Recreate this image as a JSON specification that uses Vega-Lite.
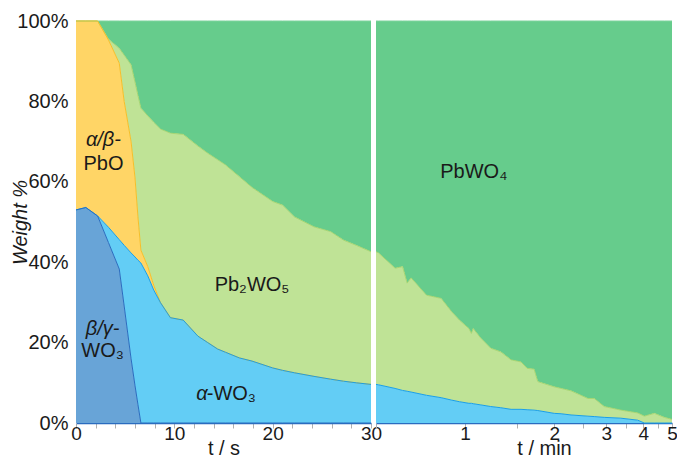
{
  "$schema": "https://vega.github.io/schema/vega-lite/v6.json",
  "background": "white",
  "padding": {"left": 10, "top": 11, "right": 2, "bottom": 0},
  "bounds": "flush",
  "spacing": 5,
  "config": {
    "view": {"stroke": null},
    "font": "Liberation Sans",
    "axis": {"grid": false, "labelOverlap": false, "labelColor": "#1a1a1a", "titleColor": "#1a1a1a", "labelFont": "Liberation Sans", "titleFont": "Liberation Sans", "titleFontWeight": "normal"}
  },
  "datasets": {
    "phases": [
      {"key": "bgWO3", "i": 1},
      {"key": "aWO3", "i": 2},
      {"key": "PbO", "i": 3},
      {"key": "Pb2WO5", "i": 4},
      {"key": "PbWO4", "i": 5}
    ],
    "left": [
      {"t": 0, "bgWO3": 53.0, "aWO3": 0, "PbO": 47.0, "Pb2WO5": 0, "PbWO4": 0},
      {"t": 1, "bgWO3": 53.6, "aWO3": 0, "PbO": 46.4, "Pb2WO5": 0, "PbWO4": 0},
      {"t": 2.2, "bgWO3": 51.5, "aWO3": 0, "PbO": 48.5, "Pb2WO5": 0, "PbWO4": 0},
      {"t": 3.3, "bgWO3": 44.9, "aWO3": 3.8, "PbO": 46.6, "Pb2WO5": 0.2, "PbWO4": 4.5},
      {"t": 4.4, "bgWO3": 38.3, "aWO3": 7.3, "PbO": 43.9, "Pb2WO5": 3.7, "PbWO4": 6.8},
      {"t": 4.9, "bgWO3": 29.1, "aWO3": 15.1, "PbO": 35.8, "Pb2WO5": 11.5, "PbWO4": 8.5},
      {"t": 5.6, "bgWO3": 16.0, "aWO3": 26.3, "PbO": 27.7, "Pb2WO5": 19.1, "PbWO4": 10.9},
      {"t": 6.0, "bgWO3": 9.3, "aWO3": 32.0, "PbO": 19.7, "Pb2WO5": 23.8, "PbWO4": 15.2},
      {"t": 6.3, "bgWO3": 4.6, "aWO3": 35.9, "PbO": 10.8, "Pb2WO5": 30.2, "PbWO4": 18.5},
      {"t": 6.6, "bgWO3": 0, "aWO3": 39.8, "PbO": 3.2, "Pb2WO5": 35.3, "PbWO4": 21.7},
      {"t": 7.3, "bgWO3": 0, "aWO3": 36.6, "PbO": 2.3, "Pb2WO5": 37.5, "PbWO4": 23.6},
      {"t": 7.9, "bgWO3": 0, "aWO3": 33.1, "PbO": 1.2, "Pb2WO5": 40.5, "PbWO4": 25.2},
      {"t": 8.6, "bgWO3": 0, "aWO3": 29.9, "PbO": 0, "Pb2WO5": 43.2, "PbWO4": 26.9},
      {"t": 9.6, "bgWO3": 0, "aWO3": 26.2, "PbO": 0, "Pb2WO5": 45.9, "PbWO4": 27.9},
      {"t": 10.9, "bgWO3": 0, "aWO3": 25.6, "PbO": 0, "Pb2WO5": 46.2, "PbWO4": 28.2},
      {"t": 12.4, "bgWO3": 0, "aWO3": 21.6, "PbO": 0, "Pb2WO5": 47.3, "PbWO4": 31.1},
      {"t": 13.4, "bgWO3": 0, "aWO3": 20.0, "PbO": 0, "Pb2WO5": 47.1, "PbWO4": 32.9},
      {"t": 14.4, "bgWO3": 0, "aWO3": 18.4, "PbO": 0, "Pb2WO5": 47.1, "PbWO4": 34.5},
      {"t": 15.2, "bgWO3": 0, "aWO3": 17.6, "PbO": 0, "Pb2WO5": 46.6, "PbWO4": 35.8},
      {"t": 16.6, "bgWO3": 0, "aWO3": 16.2, "PbO": 0, "Pb2WO5": 45.1, "PbWO4": 38.7},
      {"t": 17.9, "bgWO3": 0, "aWO3": 15.4, "PbO": 0, "Pb2WO5": 43.2, "PbWO4": 41.4},
      {"t": 20, "bgWO3": 0, "aWO3": 13.7, "PbO": 0, "Pb2WO5": 41.4, "PbWO4": 44.9},
      {"t": 21, "bgWO3": 0, "aWO3": 13.1, "PbO": 0, "Pb2WO5": 41.1, "PbWO4": 45.8},
      {"t": 22.2, "bgWO3": 0, "aWO3": 12.5, "PbO": 0, "Pb2WO5": 38.8, "PbWO4": 48.7},
      {"t": 24.2, "bgWO3": 0, "aWO3": 11.6, "PbO": 0, "Pb2WO5": 37.2, "PbWO4": 51.2},
      {"t": 25.9, "bgWO3": 0, "aWO3": 10.9, "PbO": 0, "Pb2WO5": 36.7, "PbWO4": 52.4},
      {"t": 27.2, "bgWO3": 0, "aWO3": 10.4, "PbO": 0, "Pb2WO5": 35.1, "PbWO4": 54.5},
      {"t": 28.5, "bgWO3": 0, "aWO3": 10.0, "PbO": 0, "Pb2WO5": 34.2, "PbWO4": 55.8},
      {"t": 30, "bgWO3": 0, "aWO3": 9.6, "PbO": 0, "Pb2WO5": 33.0, "PbWO4": 57.4}
    ],
    "right": [
      {"t": 0.5, "aWO3": 9.6, "Pb2WO5": 33.0, "PbWO4": 57.4},
      {"t": 0.51, "aWO3": 9.5, "Pb2WO5": 32.8, "PbWO4": 57.7},
      {"t": 0.58, "aWO3": 8.6, "Pb2WO5": 29.9, "PbWO4": 61.5},
      {"t": 0.615, "aWO3": 8.1, "Pb2WO5": 30.8, "PbWO4": 61.1},
      {"t": 0.637, "aWO3": 7.9, "Pb2WO5": 26.9, "PbWO4": 65.2},
      {"t": 0.657, "aWO3": 7.7, "Pb2WO5": 28.4, "PbWO4": 63.9},
      {"t": 0.74, "aWO3": 6.9, "Pb2WO5": 24.9, "PbWO4": 68.2},
      {"t": 0.83, "aWO3": 6.3, "Pb2WO5": 24.7, "PbWO4": 69.0},
      {"t": 0.9, "aWO3": 5.7, "Pb2WO5": 22.0, "PbWO4": 72.3},
      {"t": 0.956, "aWO3": 5.3, "Pb2WO5": 20.3, "PbWO4": 74.4},
      {"t": 1.03, "aWO3": 4.9, "Pb2WO5": 18.6, "PbWO4": 76.5},
      {"t": 1.05, "aWO3": 4.9, "Pb2WO5": 17.4, "PbWO4": 77.7},
      {"t": 1.065, "aWO3": 4.8, "Pb2WO5": 18.7, "PbWO4": 76.5},
      {"t": 1.13, "aWO3": 4.5, "Pb2WO5": 16.6, "PbWO4": 78.9},
      {"t": 1.22, "aWO3": 4.1, "Pb2WO5": 14.5, "PbWO4": 81.4},
      {"t": 1.32, "aWO3": 3.8, "Pb2WO5": 13.9, "PbWO4": 82.3},
      {"t": 1.43, "aWO3": 3.4, "Pb2WO5": 12.3, "PbWO4": 84.3},
      {"t": 1.545, "aWO3": 3.4, "Pb2WO5": 11.8, "PbWO4": 84.8},
      {"t": 1.62, "aWO3": 3.3, "Pb2WO5": 10.3, "PbWO4": 86.4},
      {"t": 1.71, "aWO3": 3.2, "Pb2WO5": 10.2, "PbWO4": 86.6},
      {"t": 1.76, "aWO3": 3.1, "Pb2WO5": 7.2, "PbWO4": 89.7},
      {"t": 2.0, "aWO3": 2.4, "Pb2WO5": 6.6, "PbWO4": 91.0},
      {"t": 2.11, "aWO3": 2.3, "Pb2WO5": 6.3, "PbWO4": 91.4},
      {"t": 2.28, "aWO3": 2.0, "Pb2WO5": 6.0, "PbWO4": 92.0},
      {"t": 2.6, "aWO3": 1.7, "Pb2WO5": 4.4, "PbWO4": 93.9},
      {"t": 2.73, "aWO3": 1.6, "Pb2WO5": 4.5, "PbWO4": 93.9},
      {"t": 2.95, "aWO3": 1.4, "Pb2WO5": 2.7, "PbWO4": 95.9},
      {"t": 3.36, "aWO3": 1.2, "Pb2WO5": 2.0, "PbWO4": 96.8},
      {"t": 3.83, "aWO3": 0.7, "Pb2WO5": 1.8, "PbWO4": 97.5},
      {"t": 4.03, "aWO3": 0, "Pb2WO5": 1.7, "PbWO4": 98.3},
      {"t": 4.36, "aWO3": 0, "Pb2WO5": 2.4, "PbWO4": 97.6},
      {"t": 4.71, "aWO3": 0, "Pb2WO5": 1.4, "PbWO4": 98.6},
      {"t": 5.0, "aWO3": 0, "Pb2WO5": 0.9, "PbWO4": 99.1}
    ]
  },
  "hconcat": [
    {
      "width": 295,
      "height": 402,
      "encoding": {
        "x": {"field": "t", "type": "quantitative", "title": "t / s", "scale": {"domain": [0, 30], "nice": false, "zero": false},
          "axis": {"values": [0, 2, 4, 6, 8, 10, 12, 14, 16, 18, 20, 22, 24, 26, 28, 30], "labelExpr": "datum.value % 10 === 0 ? datum.label : ''", "labelOverlap": false, "labelFlush": false, "tickSize": 5, "tickColor": "#b0b0b0", "domainColor": "#2a6cbf", "domainWidth": 1.5, "labelFontSize": 19, "labelPadding": -4, "titleFontSize": 20, "titlePadding": -5}},
        "y": {"field": "w", "type": "quantitative", "title": "Weight %", "scale": {"domain": [0, 100], "nice": false},
          "axis": {"values": [0, 20, 40, 60, 80, 100], "labelExpr": "datum.value + '%'", "ticks": false, "domainColor": "#c0c0c0", "labelFontSize": 20, "labelPadding": 8, "titleFontStyle": "italic", "titleFontSize": 20, "titlePadding": -14}}
      },
      "layer": [
        {
          "data": {"name": "left"},
          "transform": [
            {"fold": ["PbWO4", "Pb2WO5", "PbO", "aWO3", "bgWO3"]},
            {"lookup": "key", "from": {"data": {"name": "phases"}, "key": "key", "fields": ["i"]}},
            {"stack": "value", "groupby": ["t"], "sort": [{"field": "i", "order": "ascending"}], "as": ["w0", "w"]}
          ],
          "mark": {"type": "area", "interpolate": "linear"},
          "encoding": {
            "y2": {"field": "w0"},
            "color": {"field": "key", "type": "nominal", "legend": null,
              "scale": {"domain": ["bgWO3", "aWO3", "PbO", "Pb2WO5", "PbWO4"], "range": ["#68a4d7", "#63cdf5", "#ffd566", "#bfe396", "#66cc8c"]}}
          }
        },
        {
          "data": {"name": "left"},
          "transform": [
            {"fold": ["PbWO4", "Pb2WO5", "PbO", "aWO3", "bgWO3"]},
            {"lookup": "key", "from": {"data": {"name": "phases"}, "key": "key", "fields": ["i"]}},
            {"stack": "value", "groupby": ["t"], "sort": [{"field": "i", "order": "ascending"}], "as": ["w0", "w"]}
          ],
          "mark": {"type": "line", "strokeWidth": 1, "interpolate": "linear"},
          "encoding": {
            "stroke": {"field": "key", "type": "nominal", "legend": null,
              "scale": {"domain": ["bgWO3", "aWO3", "PbO", "Pb2WO5", "PbWO4"], "range": ["#2a6cbf", "#1a9fe6", "#f5bf2a", "#a6d672", "#7dd39c"]}}
          }
        },
        {
          "data": {"values": [
            {"t": 2.79, "w": 70.4, "label": "α/β-"},
            {"t": 2.7, "w": 23.3, "label": "β/γ-"},
            {"t": 12.8, "w": 7.2, "label": "α"}
          ]},
          "mark": {"type": "text", "fontStyle": "italic", "fontSize": 20, "color": "#1a1a1a", "font": "Liberation Sans"},
          "encoding": {"text": {"field": "label"}}
        },
        {
          "data": {"values": [
            {"t": 2.79, "w": 64.4, "label": "PbO"},
            {"t": 2.7, "w": 18.0, "label": "WO₃"},
            {"t": 17.9, "w": 34.3, "label": "Pb₂WO₅"},
            {"t": 15.8, "w": 7.2, "label": "-WO₃"}
          ]},
          "mark": {"type": "text", "fontSize": 20, "color": "#1a1a1a", "font": "Liberation Sans"},
          "encoding": {"text": {"field": "label"}}
        }
      ]
    },
    {
      "width": 296,
      "height": 402,
      "encoding": {
        "x": {"field": "t", "type": "quantitative", "title": "t / min", "scale": {"type": "log", "domain": [0.5, 5], "nice": false},
          "axis": {"values": [0.5, 1, 1.5, 2, 2.5, 3, 3.5, 4, 4.5, 5], "labelExpr": "datum.value % 1 === 0 ? datum.value : ''", "labelOverlap": false, "labelFlush": false, "titleX": 168, "tickSize": 5, "tickColor": "#b0b0b0", "domainColor": "#2a6cbf", "domainWidth": 1.5, "labelFontSize": 19, "labelPadding": -4, "titleFontSize": 20, "titlePadding": -5}},
        "y": {"field": "w", "type": "quantitative", "scale": {"domain": [0, 100], "nice": false}, "axis": null}
      },
      "layer": [
        {
          "data": {"name": "right"},
          "transform": [
            {"fold": ["PbWO4", "Pb2WO5", "aWO3"]},
            {"lookup": "key", "from": {"data": {"name": "phases"}, "key": "key", "fields": ["i"]}},
            {"stack": "value", "groupby": ["t"], "sort": [{"field": "i", "order": "ascending"}], "as": ["w0", "w"]}
          ],
          "mark": {"type": "area", "interpolate": "linear"},
          "encoding": {
            "y2": {"field": "w0"},
            "color": {"field": "key", "type": "nominal", "legend": null,
              "scale": {"domain": ["bgWO3", "aWO3", "PbO", "Pb2WO5", "PbWO4"], "range": ["#68a4d7", "#63cdf5", "#ffd566", "#bfe396", "#66cc8c"]}}
          }
        },
        {
          "data": {"name": "right"},
          "transform": [
            {"fold": ["PbWO4", "Pb2WO5", "aWO3"]},
            {"lookup": "key", "from": {"data": {"name": "phases"}, "key": "key", "fields": ["i"]}},
            {"stack": "value", "groupby": ["t"], "sort": [{"field": "i", "order": "ascending"}], "as": ["w0", "w"]}
          ],
          "mark": {"type": "line", "strokeWidth": 1, "interpolate": "linear"},
          "encoding": {
            "stroke": {"field": "key", "type": "nominal", "legend": null,
              "scale": {"domain": ["bgWO3", "aWO3", "PbO", "Pb2WO5", "PbWO4"], "range": ["#2a6cbf", "#1a9fe6", "#f5bf2a", "#a6d672", "#7dd39c"]}}
          }
        },
        {
          "data": {"values": [
            {"t": 1.07, "w": 62.4, "label": "PbWO₄"}
          ]},
          "mark": {"type": "text", "fontSize": 20, "color": "#1a1a1a", "font": "Liberation Sans"},
          "encoding": {"text": {"field": "label"}}
        }
      ]
    }
  ]
}
